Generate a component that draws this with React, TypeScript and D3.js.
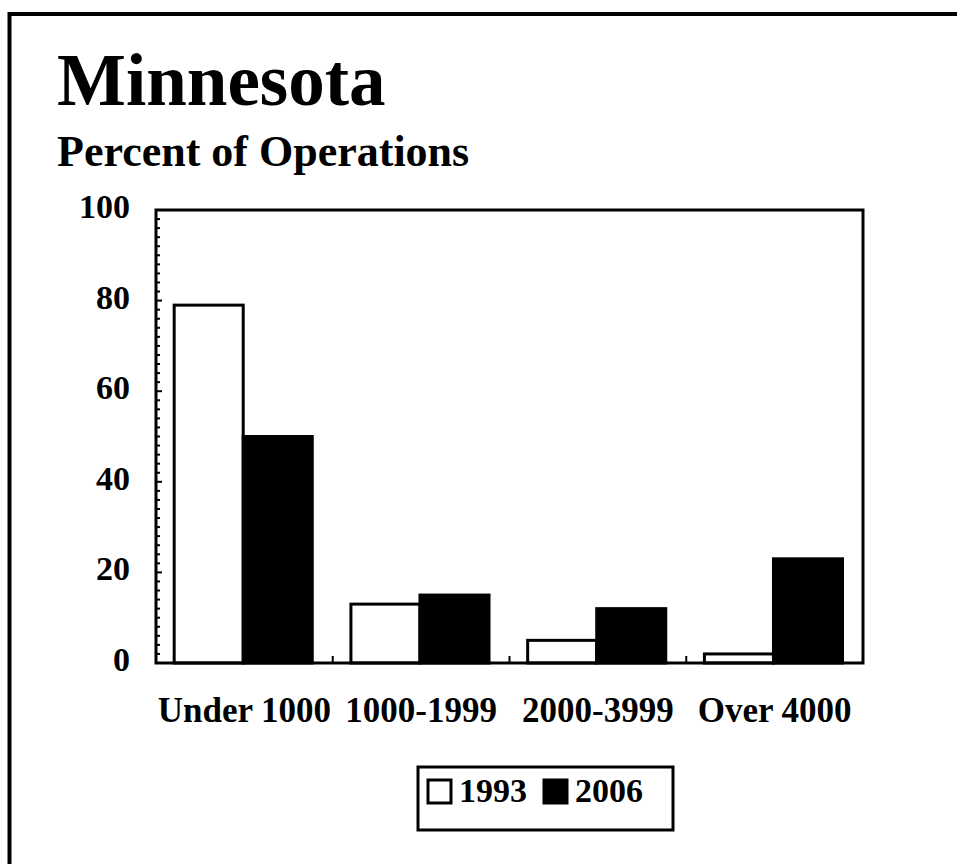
import React from "react";
import * as d3 from "d3";

const categories = ["Under 1000", "1000-1999", "2000-3999", "Over 4000"];
const seriesNames = ["1993", "2006"];
const values1993 = [79, 13, 5, 2];
const values2006 = [50, 15, 12, 23];
const yTicks = [0, 20, 40, 60, 80, 100];
const seriesFill = ["#ffffff", "#000000"];

const W = 957;
const H = 864;
const FONT = "'Liberation Serif', 'Times New Roman', serif";

export default function App() {
  const left = 156;
  const right = 863;
  const top = 210;
  const bottom = 663;

  const y = d3.scaleLinear().domain([0, 100]).range([bottom, top]);
  const x0 = d3.scaleBand<string>().domain(categories).range([left, right]).paddingInner(0).paddingOuter(0);
  const x1 = d3
    .scaleBand<string>()
    .domain(seriesNames)
    .range([0, x0.bandwidth()])
    .paddingInner(0)
    .paddingOuter(0.28)
    .align(0.47);

  const seriesValues = [values1993, values2006];
  const minorTicks = d3.range(0, 101, 2);

  return (
    <svg
      width={W}
      height={H}
      style={{ position: "absolute", left: 0, top: 0, display: "block", background: "#fff" }}
      fontFamily={FONT}
    >
      <rect x={0} y={0} width={W} height={H} fill="#fff" />
      {/* outer border */}
      <rect x={9.5} y={14} width={W + 20} height={H + 20} fill="none" stroke="#000" strokeWidth={4} />

      <text x={57} y={105} fontSize={73} fontWeight="bold" fill="#000">
        Minnesota
      </text>
      <text x={57} y={166} fontSize={44} fontWeight="bold" fill="#000">
        Percent of Operations
      </text>

      {/* bars */}
      {categories.map((c, i) => (
        <g key={c} transform={`translate(${x0(c)},0)`}>
          {seriesNames.map((s, j) => {
            const v = seriesValues[j][i];
            return (
              <rect
                key={s}
                x={x1(s)}
                y={y(v)}
                width={x1.bandwidth()}
                height={y(0) - y(v)}
                fill={seriesFill[j]}
                stroke="#000"
                strokeWidth={3}
              />
            );
          })}
        </g>
      ))}

      {/* y minor ticks */}
      {minorTicks.map((t) => (
        <line
          key={t}
          x1={left}
          x2={left + (t % 20 === 0 ? 6 : 4)}
          y1={y(t)}
          y2={y(t)}
          stroke="#000"
          strokeWidth={2}
        />
      ))}

      {/* x category separator ticks */}
      {categories.slice(1).map((c) => (
        <line key={c} x1={x0(c)} x2={x0(c)} y1={y(0)} y2={y(0) - 7} stroke="#000" strokeWidth={2} />
      ))}

      {/* plot frame */}
      <rect x={left} y={top} width={right - left} height={bottom - top} fill="none" stroke="#000" strokeWidth={3} />

      {/* y tick labels */}
      {yTicks.map((t) => (
        <text key={t} x={130} y={y(t) + 8} textAnchor="end" fontSize={34} fontWeight="bold" fill="#000">
          {t}
        </text>
      ))}

      {/* x labels */}
      {categories.map((c) => (
        <text
          key={c}
          x={(x0(c) as number) + x0.bandwidth() / 2}
          y={722}
          textAnchor="middle"
          fontSize={35}
          fontWeight="bold"
          fill="#000"
        >
          {c}
        </text>
      ))}

      {/* legend */}
      <g>
        <rect x={418} y={767} width={255} height={63} fill="#fff" stroke="#000" strokeWidth={3} />
        {seriesNames.map((s, j) => {
          const lx = 428 + j * 116;
          return (
            <g key={s}>
              <rect x={lx} y={780} width={23} height={23} fill={seriesFill[j]} stroke="#000" strokeWidth={3} />
              <text x={lx + 31} y={802} fontSize={34} fontWeight="bold" fill="#000">
                {s}
              </text>
            </g>
          );
        })}
      </g>
    </svg>
  );
}
